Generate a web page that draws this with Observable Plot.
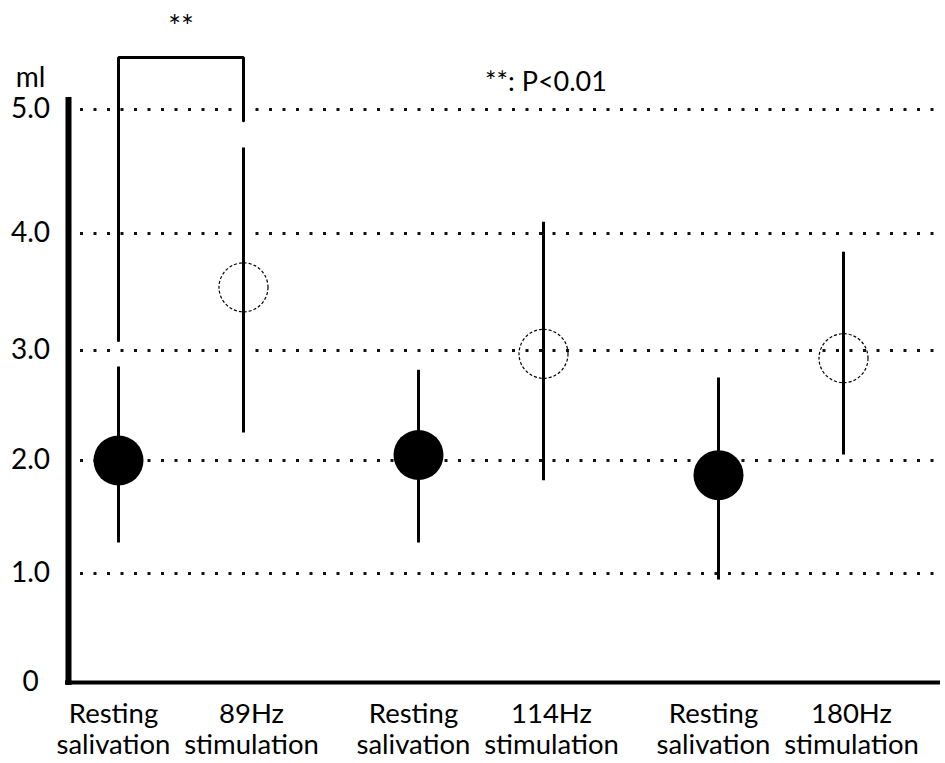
<!DOCTYPE html>
<html><head><meta charset="utf-8">
<script src="https://cdn.jsdelivr.net/npm/d3@7"></script>
<script src="https://cdn.jsdelivr.net/npm/@observablehq/plot@0.6"></script>
<style>body{margin:0;background:#fff;}</style>
</head><body><div id="chart"></div>
<script>
// ---- data ----
const categories = ["Resting\nsalivation", "89Hz\nstimulation", "Resting\nsalivation", "114Hz\nstimulation", "Resting\nsalivation", "180Hz\nstimulation"];
const conditions = ["rest", "stim", "rest", "stim", "rest", "stim"];
const xPositions = [0, 1, 2.4, 3.4, 4.8, 5.8];
const means = [2.0, 3.54, 2.05, 2.97, 1.87, 2.93];
const lows  = [1.27, 2.25, 1.27, 1.82, 0.94, 2.05];
const highs = [2.85, 4.69, 2.82, 4.09, 2.75, 3.84];
const yTicks = [0, 1, 2, 3, 4, 5];
const yTickLabels = ["0", "1.0", "2.0", "3.0", "4.0", "5.0"];
const gridTicks = [1, 2, 3, 4, 5];
// significance bracket between first rest and 89Hz stimulation
const bracketLegs = [3.085, 5.42, 5.42, 4.91];
const noteText = "**: P<0.01";
const notePos = {x: 3.42, y: 5.22};

// the hand-drawn axis of the original has unevenly spaced gridlines
const yRange = [682, 573, 460, 350, 233, 109];

const data = categories.map((c, i) => ({label: c, cond: conditions[i], x: xPositions[i], mean: means[i], low: lows[i], high: highs[i]}));
const rest = data.filter(d => d.cond === "rest");
const stim = data.filter(d => d.cond === "stim");
const bracket = [
  {x: xPositions[0], y: bracketLegs[0]},
  {x: xPositions[0], y: bracketLegs[1]},
  {x: xPositions[1], y: bracketLegs[2]},
  {x: xPositions[1], y: bracketLegs[3]}
];
const yTable = yTicks.map((v, i) => ({v, t: yTickLabels[i]}));
const xMin = -0.4;
const labelStyle = {x: "x", text: "label", frameAnchor: "bottom", lineAnchor: "top", dy: 19, fontSize: 27.5, lineHeight: 1.12};

const chart = Plot.plot({
  width: 945, height: 763,
  marginTop: 109, marginBottom: 81, marginLeft: 68, marginRight: 5,
  x: {type: "linear", domain: [xMin, 6.576], axis: null},
  y: {type: "linear", domain: yTicks, range: yRange, axis: null},
  style: {fontFamily: "Lato, sans-serif", background: "white", color: "black"},
  marks: [
    Plot.ruleY(gridTicks, {strokeDasharray: "3,10.5", strokeWidth: 3, stroke: "#111", insetLeft: 12}),
    Plot.ruleY([0], {strokeWidth: 4, insetLeft: -3}),
    Plot.ruleX([xMin], {strokeWidth: 6, insetTop: -12, insetBottom: -3}),
    Plot.ruleX(data, {x: "x", y1: "low", y2: "high", strokeWidth: 3}),
    Plot.dot(rest, {x: "x", y: "mean", r: 25, fill: "black", stroke: "none"}),
    Plot.dot(stim, {x: "x", y: "mean", r: 24.5, fill: "none", stroke: "black", strokeWidth: 1.2, strokeDasharray: "3,2"}),
    Plot.line(bracket, {x: "x", y: "y", strokeWidth: 3, stroke: "black", strokeLinejoin: "miter"}),
    Plot.text([bracket[1]], {x: d => (xPositions[0] + xPositions[1]) / 2, y: "y", dy: -30, text: () => "**", fontSize: 30}),
    Plot.text([noteText], {x: () => notePos.x, y: () => notePos.y, text: d => d, fontSize: 27}),
    Plot.text(["ml"], {frameAnchor: "top-left", dx: -38, dy: -31, textAnchor: "middle", lineAnchor: "middle", text: d => d, fontSize: 28}),
    Plot.text(yTable, {y: "v", text: "t", frameAnchor: "left", dx: -38, textAnchor: "middle", fontSize: 28}),
    Plot.text(rest, {...labelStyle, dx: -5}),
    Plot.text(stim, {...labelStyle, dx: 8})
  ]
});
document.getElementById("chart").appendChild(chart);
</script>
</body></html>
